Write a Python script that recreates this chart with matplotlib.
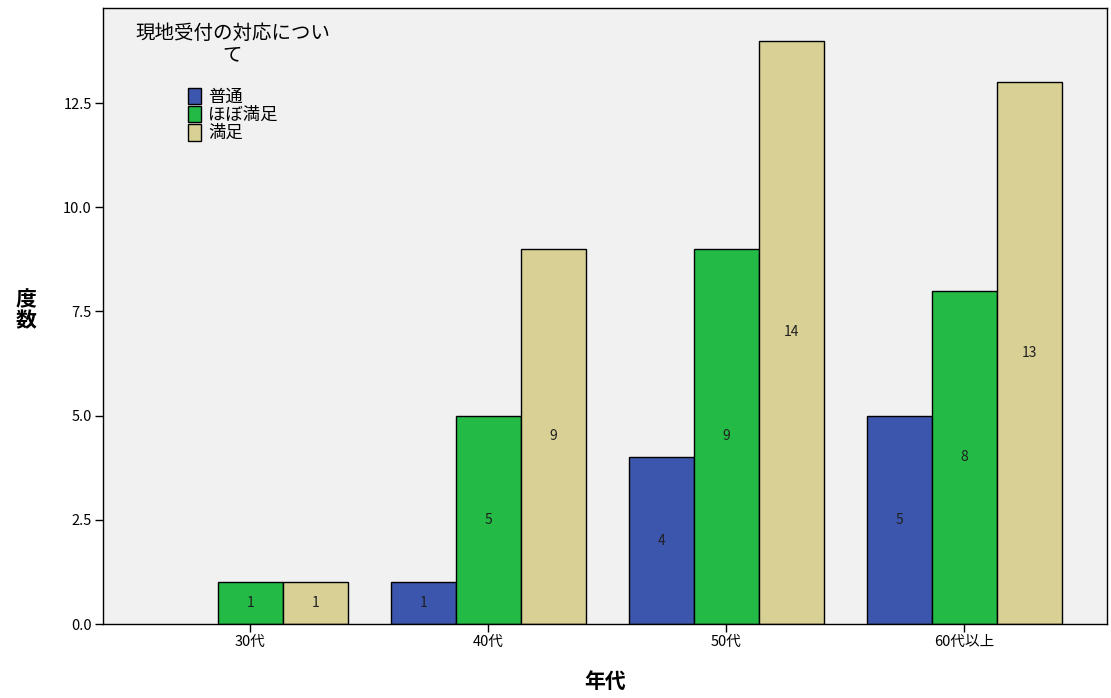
import matplotlib
matplotlib.use("Agg")
import matplotlib.pyplot as plt
import numpy as np

plt.rcParams['font.family'] = ['Noto Sans CJK JP', 'DejaVu Sans']

# data
groups = ['30代', '40代', '50代', '60代以上']
series = ['普通', 'ほぼ満足', '満足']
counts = {
    '普通':     [0, 1, 4, 5],
    'ほぼ満足': [1, 5, 9, 8],
    '満足':     [1, 9, 14, 13],
}
colors = ['#3d56ad', '#23bb45', '#d8d095']
yticks = [0.0, 2.5, 5.0, 7.5, 10.0, 12.5]

fig = plt.figure(figsize=(11.11, 6.98), dpi=100)
ax = fig.add_axes([0.0927, 0.106, 0.9037, 0.8825])
ax.set_facecolor('#f1f1f1')

x = np.arange(len(groups))
w = 0.273
for i, (name, col) in enumerate(zip(series, colors)):
    vals = np.array(counts[name])
    pos = x + (i - 1) * w
    keep = vals > 0
    ax.bar(pos[keep], vals[keep], width=w, color=col, edgecolor='black',
           linewidth=1.0, label=name, zorder=2)
    for p, v in zip(pos[keep], vals[keep]):
        ax.text(p, v / 2, str(v), ha='center', va='center', fontsize=10,
                color='#202020', zorder=3)

ax.set_xlim(-0.62, 3.6)
ax.set_ylim(0, 14.78)
ax.set_xticks(x)
ax.set_xticklabels(groups, fontsize=10.5)
ax.set_yticks(yticks)
ax.set_yticklabels(['%.1f' % t for t in yticks], fontsize=10.5)
ax.tick_params(axis='both', direction='out', length=6, width=1, color='black', pad=2)
for s in ax.spines.values():
    s.set_linewidth(1.0)

ax.set_xlabel('年代', fontsize=15, fontweight='bold', labelpad=16)
fig.text(0.023, 0.555, '度\n数', fontsize=15, fontweight='bold', ha='center',
         va='center', linespacing=1.0)

# legend block
ax.text(0.129, 0.975, '現地受付の対応につい\nて', transform=ax.transAxes,
        ha='center', va='top', fontsize=14, linespacing=1.0)
leg = ax.legend(loc='upper left', bbox_to_anchor=(0.0765, 0.885), frameon=False,
                fontsize=12.5, handlelength=0.75, handleheight=1.1,
                labelspacing=0.0, handletextpad=0.4, borderpad=0)

fig.savefig('out.png', dpi=100)
